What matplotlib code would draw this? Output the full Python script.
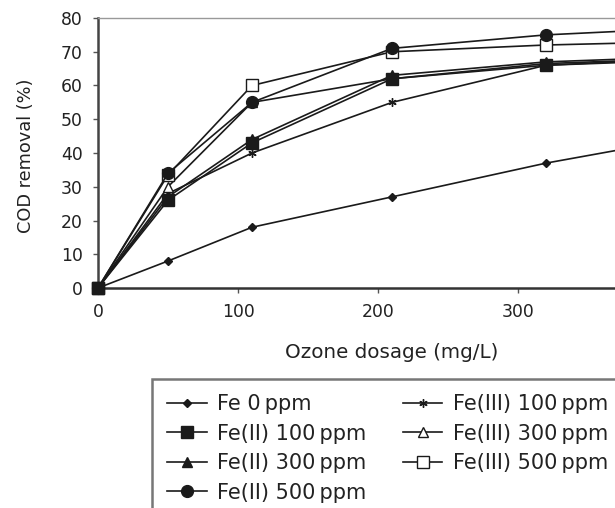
import matplotlib
matplotlib.use('Agg')  # no display in the sandbox
import matplotlib.pyplot as plt

plt.rcParams['font.family'] = ['DejaVu Sans']

# Ozone dosage (mg/L) and COD removal (%)
ozone_dose = [0, 50, 110, 210, 320, 420]
fe_0 = [0, 8, 18, 27, 37, 44.5]
fe2_100 = [0, 26, 43, 62, 66, 68]
fe2_300 = [0, 27, 44, 63, 67, 68.5]
fe2_500 = [0, 34, 55, 71, 75, 77]
fe3_100 = [0, 28, 40, 55, 66, 67.5]
fe3_300 = [0, 30, 55, 62, 66.5, 68]
fe3_500 = [0, 33.5, 60, 70, 72, 73]

x_ticks = [0, 100, 200, 300]
labels = ['Fe 0\u2009ppm', 'Fe(II) 100\u2009ppm', 'Fe(II) 300\u2009ppm',
          'Fe(II) 500\u2009ppm', 'Fe(III) 100\u2009ppm', 'Fe(III) 300\u2009ppm',
          'Fe(III) 500\u2009ppm']
series = [fe_0, fe2_100, fe2_300, fe2_500, fe3_100, fe3_300, fe3_500]

# marker, size, face colour, zorder for each series
styles = [
    ('D', 3.8, '#1a1a1a', 3),
    ('s', 9, '#1a1a1a', 5),
    ('^', 7.5, '#1a1a1a', 5),
    ('o', 8.5, '#1a1a1a', 5),
    ((6, 2, 0), 6, '#1a1a1a', 3),
    ('^', 7, 'white', 3),
    ('s', 8, 'white', 3),
]

fig = plt.figure(figsize=(6.15, 5.08), dpi=100)
W, H = 615, 508
# axes run past the right edge, the original picture is cropped there
x0, y0, ytop = 98, 288, 18
xmax = 440
px_per_unit = 1.4
ax = fig.add_axes([x0 / W, 1 - y0 / H, xmax * px_per_unit / W, (y0 - ytop) / H])

for vals, lab, (m, ms, fc, z) in zip(series, labels, styles):
    ax.plot(ozone_dose, vals, color='#1a1a1a', lw=1.2, marker=m, markersize=ms,
            markerfacecolor=fc, markeredgecolor='#1a1a1a', markeredgewidth=1.0,
            label=lab, clip_on=False, zorder=z)

ax.set_xlim(0, xmax)
ax.set_ylim(0, 80)
ax.set_xticks(x_ticks)
ax.set_yticks(range(0, 81, 10))
ax.tick_params(direction='out', length=3.5, width=1, colors='#555555',
               labelsize=12.4, labelcolor='#222222', pad=7.5)

ax.spines['left'].set_color('#444444')
ax.spines['left'].set_linewidth(1.8)
ax.spines['bottom'].set_color('#333333')
ax.spines['bottom'].set_linewidth(1.8)
ax.spines['top'].set_color('#999999')
ax.spines['top'].set_linewidth(1.0)
ax.spines['right'].set_visible(False)

fig.text(26 / W, 1 - 156 / H, 'COD removal (%)', rotation=90, ha='center',
         va='center', fontsize=12.8, color='#222222')
fig.text(392 / W, 1 - 352 / H, 'Ozone dosage (mg/L)', ha='center',
         va='center', fontsize=14.3, color='#222222')

leg = fig.legend(loc='upper left', bbox_to_anchor=(152 / W, 1 - 379 / H),
                 ncol=2, fontsize=15, frameon=True, fancybox=False,
                 borderaxespad=0, borderpad=0.72, handlelength=1.9,
                 handletextpad=0.5, columnspacing=1.75, labelspacing=0.46)
leg.get_frame().set_edgecolor('#555555')
leg.get_frame().set_linewidth(1.8)
for t in leg.get_texts():
    t.set_color('#222222')

fig.savefig('out.png', dpi=100)
